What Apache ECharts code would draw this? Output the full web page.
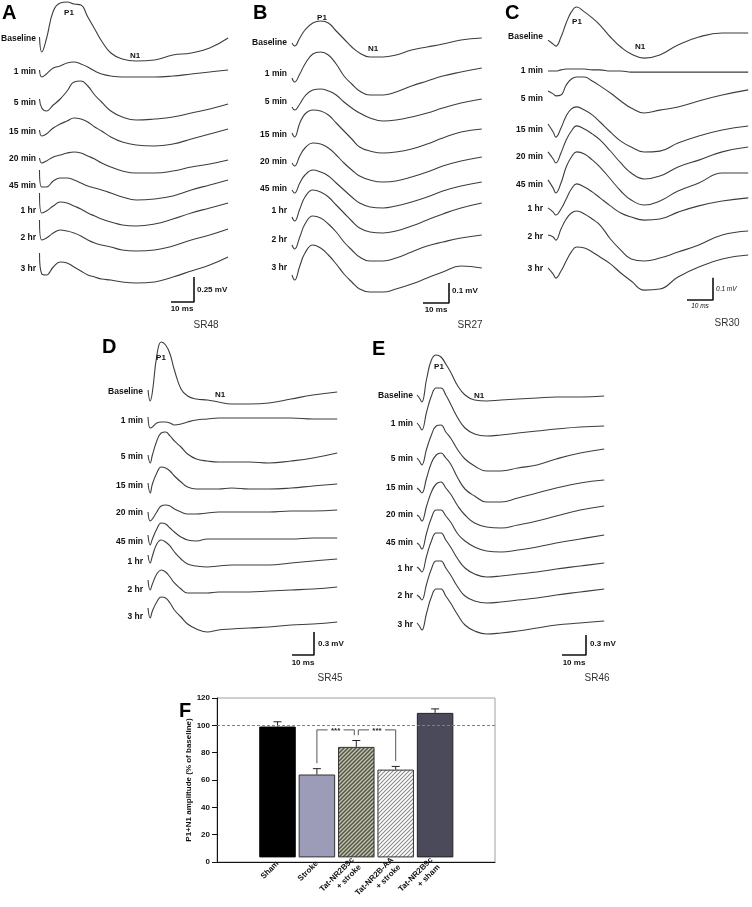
<!DOCTYPE html>
<html><head><meta charset="utf-8">
<script src="https://cdn.jsdelivr.net/npm/echarts@6/dist/echarts.min.js"></script>
<style>html,body{margin:0;padding:0;background:#fff}#c{width:752px;height:907px}</style>
</head><body><div id="c"></div>
<script>
// ---------- DATA ----------
const TRACE_LABELS = ['Baseline','1 min','5 min','15 min','20 min','45 min','1 hr','2 hr','3 hr'];

// Panel A (SR48) – time in ms, amplitude in µV
const A_TIMES = [0,1,3,6,9,12,15,18,21,24,27,31,36,42,50,58,66,74,82];
const A_TRACES = [
  [20,-130,0,280,360,370,350,340,220,100,-20,-140,-200,-220,-210,-160,-140,-90,10],
  [20,-50,-20,40,60,90,100,80,50,10,-20,-40,-50,-50,-50,-40,-20,0,20],
  [40,-50,-80,-20,40,120,210,220,170,80,10,-80,-140,-170,-160,-140,-100,-60,-10],
  [20,-40,-20,40,80,110,140,130,100,50,10,-50,-100,-130,-140,-120,-70,-20,30],
  [10,-40,-20,20,40,60,70,60,30,0,-40,-80,-120,-140,-140,-120,-80,-50,-10],
  [160,-10,-10,50,80,80,60,30,0,-20,-40,-70,-110,-140,-130,-100,-40,10,60],
  [180,-20,0,50,90,80,50,20,-20,-50,-80,-110,-140,-150,-130,-80,-20,30,80],
  [180,-20,0,50,80,70,50,20,-20,-50,-70,-90,-120,-130,-120,-80,-20,30,90],
  [160,-50,-60,20,70,60,20,-20,-60,-80,-100,-110,-130,-140,-130,-80,-20,40,120]
];
// Panel B (SR27)
const B_TIMES = [0,1,3,5,8,11,14,17,20,23,26,30,35,40,46,52,58,65,73];
const B_TRACES = [
  [0,-15,25,65,100,110,100,60,20,-20,-50,-70,-70,-60,-35,-20,-5,15,25],
  [-20,-40,0,50,100,110,95,50,-10,-50,-85,-105,-105,-90,-60,-35,-10,10,30],
  [-25,-40,-10,30,60,65,55,35,0,-30,-55,-80,-95,-90,-75,-55,-30,-5,15],
  [10,-10,60,105,125,120,100,60,20,-20,-60,-80,-90,-85,-70,-45,-15,15,30],
  [-5,-20,30,70,95,90,70,35,-5,-40,-70,-90,-100,-95,-75,-50,-20,5,25],
  [-5,-20,30,70,95,85,65,30,-5,-40,-70,-90,-95,-85,-65,-40,-10,15,35],
  [-30,-50,10,70,105,95,70,30,-10,-50,-85,-105,-110,-100,-75,-45,-15,15,40],
  [-25,-45,15,80,120,110,80,40,-10,-50,-85,-105,-105,-90,-60,-30,-10,10,25],
  [-35,-60,10,75,115,100,65,20,-30,-70,-105,-120,-120,-105,-80,-50,-20,10,0]
];
// Panel C (SR30)
const C_TIMES = [0,2,3,5,7,9,11,14,17,20,24,28,32,37,43,50,58,67,77];
const C_TRACES = [
  [-14,-32,-41,0,63,113,135,113,86,54,0,-45,-77,-95,-81,-36,0,18,18],
  [0,0,0,5,9,9,9,9,5,5,0,0,-5,-5,-5,-5,-5,-5,-5],
  [36,23,14,18,63,90,99,99,81,59,27,-9,-41,-63,-50,-36,-9,18,41],
  [27,-9,-32,9,63,95,104,90,68,36,-9,-50,-77,-99,-95,-59,-27,0,18],
  [23,-9,-27,18,77,117,140,126,104,77,27,-27,-72,-99,-86,-45,-14,23,45],
  [23,-14,-36,9,81,126,149,140,113,81,27,-27,-68,-90,-72,-27,9,54,54],
  [5,-14,-27,0,45,90,113,99,77,50,14,-18,-36,-50,-45,-14,14,36,50],
  [9,0,-14,36,81,108,117,104,81,54,-9,-59,-99,-108,-95,-68,-36,9,27],
  [5,-23,-41,-9,36,77,99,95,77,54,23,-18,-54,-95,-90,-36,9,45,63]
];
// Panel D (SR45)
const D_TIMES = [0,1,2,4,6,8,10,12,15,18,22,27,32,38,46,55,65,75,86];
const D_TRACES = [
  [26,-117,0,468,650,610,494,286,39,-52,-91,-104,-130,-156,-156,-143,-91,-39,0],
  [52,-91,-78,-26,-13,-13,-26,-52,-39,-13,13,26,39,39,39,39,39,26,26],
  [26,-78,26,208,312,325,273,208,130,39,-26,-52,-65,-65,-65,-78,-52,-13,52],
  [39,-91,26,169,247,234,195,130,52,-13,-39,-39,-39,-26,-39,-39,-26,0,26],
  [13,-104,-78,13,91,104,91,52,13,-13,-13,0,13,13,13,13,26,26,39],
  [91,-39,39,169,247,234,182,130,65,26,13,39,39,39,39,39,39,52,52],
  [91,-13,78,234,286,260,208,130,39,-26,-52,-65,-52,-39,-39,-39,-13,13,39],
  [130,0,78,208,260,234,169,91,13,-39,-39,-39,-26,-26,-26,-13,0,13,39],
  [117,-13,78,195,260,247,182,91,0,-91,-156,-195,-169,-156,-143,-130,-104,-91,-65]
];
// Panel E (SR46)
const E_TIMES = [0,1,2,4,6,8,10,12,14,17,20,24,29,35,42,50,58,68,78];
const E_TRACES = [
  [15,-30,-90,255,540,615,585,480,360,150,15,-60,-75,-60,-45,-30,-15,-15,0],
  [15,-30,-90,180,420,540,540,435,300,90,-60,-150,-180,-165,-135,-105,-75,-45,-30],
  [15,-30,-90,150,360,495,510,405,315,135,0,-105,-180,-180,-135,-90,0,90,150],
  [0,-30,-75,150,375,495,525,450,360,150,-15,-120,-210,-210,-150,-75,0,75,120],
  [0,-30,-90,135,345,465,495,405,315,135,0,-120,-180,-195,-150,-90,-15,75,135],
  [0,-30,-90,150,375,495,495,405,315,135,30,-60,-120,-135,-105,-60,0,60,120],
  [30,0,-45,195,420,540,540,435,330,150,15,-75,-120,-105,-75,-45,0,45,90],
  [15,-15,-60,180,405,525,525,420,315,135,0,-75,-105,-90,-60,-30,15,60,105],
  [30,-15,-75,180,420,540,540,435,330,150,0,-90,-135,-120,-90,-45,0,30,60]
];

// Panel F – bar chart
const F_CATS = ['Sham','Stroke','Tat-NR2B9c\n+ stroke','Tat-NR2B-AA\n+ stroke','Tat-NR2B9c\n+ sham'];
const F_MEANS = [98.5, 62.4, 83.2, 66.1, 108.8];
const F_ERRS = [3.6, 4.4, 4.8, 2.4, 3.0];
const F_SIG = [[1,2,'***'],[2,3,'***']];
const F_REF = 100;

// ---------- LAYOUT / BUILD ----------
const FONT = '"Liberation Sans", Arial, sans-serif';
const grids=[], xAxes=[], yAxes=[], series=[], graphics=[];
function txt(x,y,str,o){
  o=o||{};
  graphics.push({type:'text', x:x, y:y, z:50, silent:true, style:{
    text:str, fill:o.fill||'#111', font:o.font||('bold 8.5px '+FONT),
    align:o.align||'right', verticalAlign:o.va||'middle',
    textAlign:o.align||'right', textVerticalAlign:o.va||'middle'}});
}
function hatch(bg, fg, w){
  const c=document.createElement('canvas'); c.width=4; c.height=4;
  const g=c.getContext('2d'); g.fillStyle=bg; g.fillRect(0,0,4,4);
  g.strokeStyle=fg; g.lineWidth=w; g.beginPath();
  g.moveTo(-1,5); g.lineTo(5,-1);
  g.moveTo(-1,1); g.lineTo(1,-1);
  g.moveTo(3,5); g.lineTo(5,3);
  g.stroke(); return c;
}

const PANELS = [
  {times:A_TIMES, traces:A_TRACES, left:39.5, top:0, height:340, pxPerMs:2.3, xMax:82, barUV:250, barPx:25,
   labelRight:36, labelY:[39,72,103,132,159,186,211,238,269], bar:[194,302],
   barTxt:'0.25 mV', barTxtPos:[197,290], msPos:[182,309], sr:'SR48', srPos:[206,325],
   letter:'A', letterPos:[2,3], p1:[69,13], n1:[135,56], small:false},
  {times:B_TIMES, traces:B_TRACES, left:292, top:0, height:340, pxPerMs:2.6, xMax:73, barUV:100, barPx:20,
   labelRight:287, labelY:[43,74,102,135,162,189,211,240,268], bar:[449,303],
   barTxt:'0.1 mV', barTxtPos:[452,291], msPos:[436,310], sr:'SR27', srPos:[470,325],
   letter:'B', letterPos:[253,3], p1:[322,18], n1:[373,49], small:false},
  {times:C_TIMES, traces:C_TRACES, left:548, top:0, height:340, pxPerMs:2.6, xMax:77, barUV:100, barPx:22.2,
   labelRight:543, labelY:[37,71,99,130,157,185,209,237,269], bar:[713,300],
   barTxt:'0.1 mV', barTxtPos:[716,289], msPos:[700,306], sr:'SR30', srPos:[727,323],
   letter:'C', letterPos:[505,3], p1:[577,22], n1:[640,47], small:true},
  {times:D_TIMES, traces:D_TRACES, left:148, top:330, height:360, pxPerMs:2.2, xMax:86, barUV:300, barPx:23.1,
   labelRight:143, labelY:[392,421,457,486,513,542,562,590,617], bar:[314,655],
   barTxt:'0.3 mV', barTxtPos:[318,644], msPos:[303,663], sr:'SR45', srPos:[330,678],
   letter:'D', letterPos:[102,337], p1:[161,358], n1:[220,395], small:false},
  {times:E_TIMES, traces:E_TRACES, left:417, top:330, height:360, pxPerMs:2.4, xMax:78, barUV:300, barPx:20,
   labelRight:413, labelY:[396,424,459,488,515,543,569,596,625], bar:[586,655],
   barTxt:'0.3 mV', barTxtPos:[590,644], msPos:[574,663], sr:'SR46', srPos:[597,678],
   letter:'E', letterPos:[372,339], p1:[439,367], n1:[479,396], small:false}
];

PANELS.forEach(p=>{
  const gi = grids.length;
  grids.push({left:p.left, top:p.top, width:p.xMax*p.pxPerMs, height:p.height, containLabel:false});
  xAxes.push({gridIndex:gi, type:'value', min:0, max:p.xMax, show:false});
  const uvPerPx = p.barUV/p.barPx;
  yAxes.push({gridIndex:gi, type:'value', min:-p.height*uvPerPx, max:0, show:false});
  p.traces.forEach((vals,k)=>{
    const off = (p.labelY[k]-p.top)*uvPerPx;
    series.push({type:'line', xAxisIndex:gi, yAxisIndex:gi, silent:true, animation:false,
      showSymbol:false, smooth:0.45, z:3,
      lineStyle:{color:'#3d3d3d', width:1.1},
      data:p.times.map((t,i)=>[t, vals[i]-off])});
    txt(p.labelRight, p.labelY[k], TRACE_LABELS[k]);
  });
  // scale bar (10 ms x barUV)
  const ct = (p.bar[0]-p.left)/p.pxPerMs, cv = -(p.bar[1]-p.top)*uvPerPx;
  series.push({type:'line', xAxisIndex:gi, yAxisIndex:gi, silent:true, animation:false, showSymbol:false,
    lineStyle:{color:'#111', width:1.6},
    data:[[ct-10, cv],[ct, cv],[ct, cv+p.barUV]]});
  const sf = p.small ? ('italic 6.5px '+FONT) : ('bold 8px '+FONT);
  txt(p.barTxtPos[0], p.barTxtPos[1], p.barTxt, {align:'left', font:sf});
  txt(p.msPos[0], p.msPos[1], '10 ms', {align:'center', font:sf});
  txt(p.srPos[0], p.srPos[1], p.sr, {align:'center', font:'10px '+FONT, fill:'#333'});
  txt(p.letterPos[0], p.letterPos[1], p.letter, {align:'left', va:'top', font:'bold 20px '+FONT, fill:'#000'});
  txt(p.p1[0], p.p1[1], 'P1', {align:'center', font:'bold 8px '+FONT});
  txt(p.n1[0], p.n1[1], 'N1', {align:'center', font:'bold 8px '+FONT});
});

// ----- Panel F -----
const FTOP=698, FH=164;
const frameGi = grids.length;
grids.push({left:217, top:FTOP, width:278, height:FH, show:true, borderColor:'#a0a0a0', borderWidth:1});
xAxes.push({gridIndex:frameGi, type:'value', min:0, max:1, axisLine:{show:true, onZero:false, lineStyle:{color:'#111', width:1}},
  axisTick:{show:false}, axisLabel:{show:false}, splitLine:{show:false}});
yAxes.push({gridIndex:frameGi, type:'value', min:0, max:120, interval:20,
  axisLine:{show:true, lineStyle:{color:'#111', width:1}},
  axisTick:{show:true, inside:false, length:5, lineStyle:{color:'#111'}},
  axisLabel:{color:'#111', fontSize:8, fontWeight:'bold', fontFamily:FONT, margin:7},
  splitLine:{show:false},
  name:'P1+N1 amplitude (% of baseline)', nameLocation:'middle', nameGap:24,
  nameTextStyle:{color:'#111', fontSize:8, fontWeight:'bold', fontFamily:FONT}});
series.push({type:'line', xAxisIndex:frameGi, yAxisIndex:frameGi, data:[], silent:true, animation:false,
  markLine:{silent:true, symbol:'none', animation:false, label:{show:false},
    lineStyle:{type:[3,2], color:'#808080', width:1}, data:[{yAxis:F_REF}]}});

const barGi = grids.length;
grids.push({left:257.8, top:FTOP, width:197, height:FH});
xAxes.push({gridIndex:barGi, type:'category', data:F_CATS, boundaryGap:true,
  axisLine:{show:false}, axisTick:{show:false},
  axisLabel:{interval:0, rotate:45, color:'#111', fontSize:8, fontWeight:'bold', fontFamily:FONT, margin:5, lineHeight:10}});
yAxes.push({gridIndex:barGi, type:'value', min:0, max:120, show:false});

const BAR_STYLES = [
  {color:'#000000', borderColor:'#000', borderWidth:1},
  {color:'#9c9cb8', borderColor:'#333', borderWidth:1},
  {color:{image:hatch('#c4c4ae','#56564a',1.5), repeat:'repeat'}, borderColor:'#333', borderWidth:1},
  {color:{image:hatch('#ffffff','#8c8c8c',1.1), repeat:'repeat'}, borderColor:'#333', borderWidth:1},
  {color:'#4a4a5a', borderColor:'#222', borderWidth:1}
];
series.push({type:'bar', xAxisIndex:barGi, yAxisIndex:barGi, barWidth:36.5, silent:true, animation:false, z:2,
  data:F_MEANS.map((v,i)=>({value:v, itemStyle:BAR_STYLES[i]}))});

// error bars (upper only)
series.push({type:'custom', xAxisIndex:barGi, yAxisIndex:barGi, silent:true, animation:false, z:4,
  data:F_MEANS.map((m,i)=>[i, m, F_ERRS[i]]),
  renderItem:function(params, api){
    const i=api.value(0), m=api.value(1), e=api.value(2);
    const p0=api.coord([i,m]), p1=api.coord([i,m+e]);
    const st={stroke:'#222', lineWidth:1};
    return {type:'group', children:[
      {type:'line', shape:{x1:p0[0],y1:p0[1],x2:p1[0],y2:p1[1]}, style:st},
      {type:'line', shape:{x1:p1[0]-4,y1:p1[1],x2:p1[0]+4,y2:p1[1]}, style:st}
    ]};
  }});

// significance brackets
series.push({type:'custom', xAxisIndex:barGi, yAxisIndex:barGi, silent:true, animation:false, z:5,
  data:F_SIG.map(s=>[s[0], s[1]]),
  renderItem:function(params, api){
    const a=api.value(0), b=api.value(1);
    const lab=F_SIG[params.dataIndex][2];
    let top=0; for(let k=a;k<=b;k++) top=Math.max(top, F_MEANS[k]+F_ERRS[k]);
    top += 8;
    const ya=F_MEANS[a]+F_ERRS[a]+4, yb=F_MEANS[b]+F_ERRS[b]+4;
    const pa=api.coord([a,ya]), pb=api.coord([b,yb]);
    const yt=api.coord([a,top])[1];
    const xa=pa[0]+(params.dataIndex>0?2:0), xb=pb[0]-(params.dataIndex<F_SIG.length-1?2:0);
    const mid=(xa+xb)/2;
    const st={stroke:'#555', lineWidth:1, fill:null};
    return {type:'group', children:[
      {type:'polyline', shape:{points:[[xa,pa[1]],[xa,yt],[mid-8,yt]]}, style:st},
      {type:'polyline', shape:{points:[[mid+8,yt],[xb,yt],[xb,pb[1]]]}, style:st},
      {type:'text', style:{text:lab, x:mid, y:yt+1, align:'center', verticalAlign:'middle',
        font:'bold 8px '+FONT, fill:'#222'}}
    ]};
  }});

txt(179, 701, 'F', {align:'left', va:'top', font:'bold 20px '+FONT, fill:'#000'});

const chart = echarts.init(document.getElementById('c'), null, {renderer:'canvas'});
chart.setOption({animation:false, backgroundColor:'#fff', grid:grids, xAxis:xAxes, yAxis:yAxes, series:series, graphic:graphics});
</script></body></html>
